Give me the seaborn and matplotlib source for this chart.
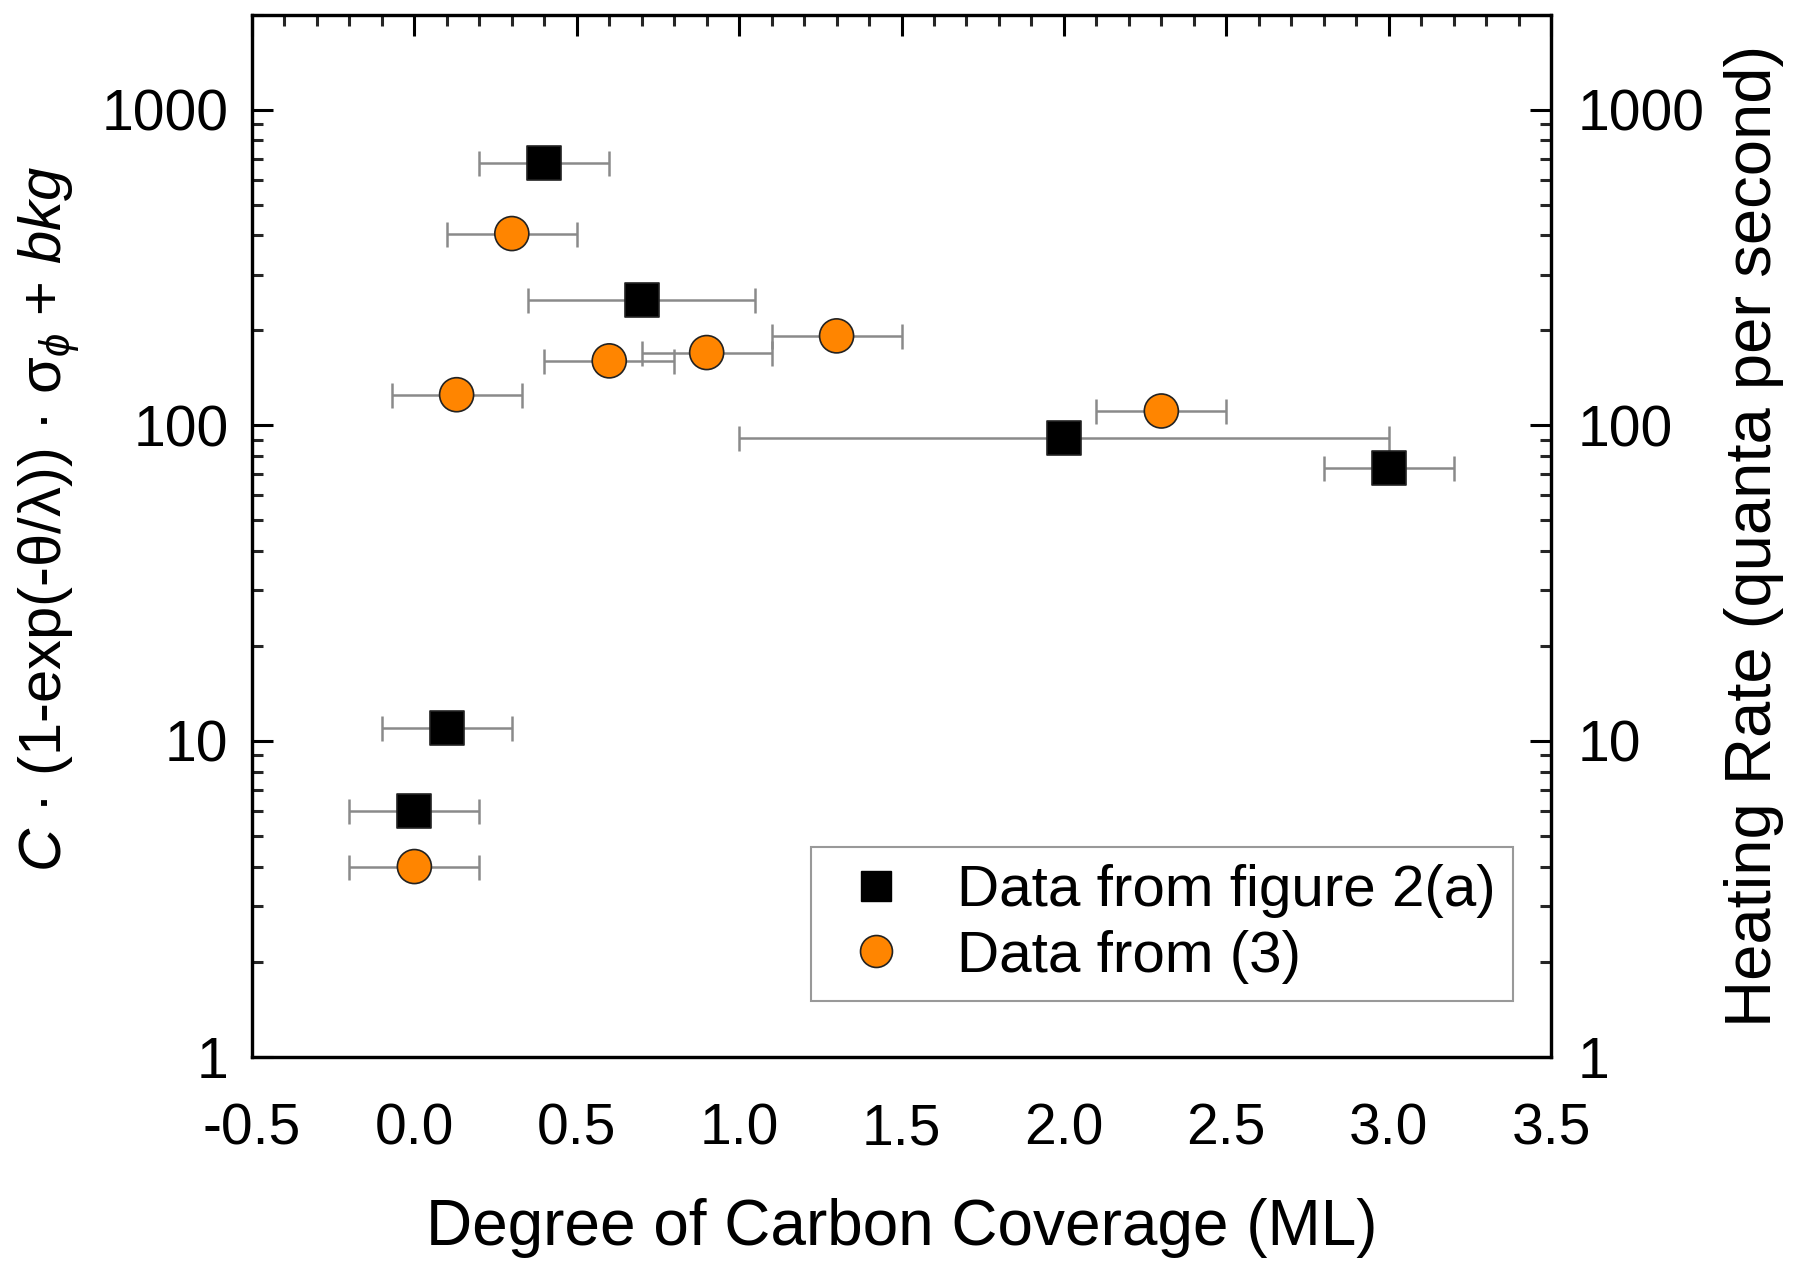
import numpy as np
import pandas as pd
import matplotlib
matplotlib.use("Agg")
import matplotlib.pyplot as plt
import seaborn as sns
from matplotlib.lines import Line2D
from matplotlib.ticker import FixedLocator, FixedFormatter, LogLocator, MultipleLocator, NullFormatter

# ---- data ----
sq_x = [0.0, 0.1, 0.4, 0.7, 2.0, 3.0]
sq_y = [6, 11, 680, 250, 91, 73]
sq_xerr = [0.2, 0.2, 0.2, 0.35, 1.0, 0.2]

ci_x = [0.0, 0.13, 0.3, 0.6, 0.9, 1.3, 2.3]
ci_y = [4, 125, 405, 160, 170, 192, 111]
ci_xerr = [0.2, 0.2, 0.2, 0.2, 0.2, 0.2, 0.2]

label_sq = "Data from figure 2(a)"
label_ci = "Data from (3)"

y_ticks = [1, 10, 100, 1000]
y_tick_labels = ["1", "10", "100", "1000"]
x_ticks = [-0.5, 0.0, 0.5, 1.0, 1.5, 2.0, 2.5, 3.0, 3.5]
x_tick_labels = ["-0.5", "0.0", "0.5", "1.0", "1.5", "2.0", "2.5", "3.0", "3.5"]

df = pd.DataFrame({
    "x": sq_x + ci_x,
    "y": sq_y + ci_y,
    "xerr": sq_xerr + ci_xerr,
    "source": [label_sq] * len(sq_x) + [label_ci] * len(ci_x),
})

sns.set_theme(style="white")
plt.rcParams['font.family'] = ['Liberation Sans', 'DejaVu Sans']
plt.rcParams['mathtext.fontset'] = 'custom'
plt.rcParams['mathtext.rm'] = 'Liberation Sans'
plt.rcParams['mathtext.it'] = 'Liberation Sans:italic'
plt.rcParams['mathtext.bf'] = 'Liberation Sans:bold'
plt.rcParams['text.color'] = 'black'
plt.rcParams['axes.labelcolor'] = 'black'

fig = plt.figure(figsize=(18, 12.73), dpi=100)
ax = fig.add_axes([0.140, 0.170, 0.7217, 0.8185])

orange = "#FF8500"
ax.errorbar(df["x"], df["y"], xerr=df["xerr"], fmt="none", ecolor="#8a8a8a",
            elinewidth=1.8, capsize=9, capthick=1.8, zorder=2)

sns.scatterplot(data=df, x="x", y="y", hue="source", style="source",
                palette={label_sq: "black", label_ci: orange},
                markers={label_sq: "s", label_ci: "o"},
                s=600, edgecolor="#222222", linewidth=1.2, ax=ax, zorder=3, legend=False)

ax.set_yscale("log")
ax.set_xlim(-0.5, 3.5)
ax.set_ylim(1, 2000)

ax.xaxis.set_major_locator(FixedLocator(x_ticks))
ax.xaxis.set_major_formatter(FixedFormatter(x_tick_labels))
ax.xaxis.set_minor_locator(MultipleLocator(0.1))
ax.yaxis.set_major_locator(FixedLocator(y_ticks))
ax.yaxis.set_major_formatter(FixedFormatter(y_tick_labels))
ax.yaxis.set_minor_locator(LogLocator(base=10, subs=np.arange(2, 10)))
ax.yaxis.set_minor_formatter(NullFormatter())

for sp in ax.spines.values():
    sp.set_linewidth(2.3)
    sp.set_color("black")

ax.tick_params(axis="both", which="major", direction="in", length=15, width=2.2,
               top=True, right=False, labelsize=41, colors="black")
ax.tick_params(axis="both", which="minor", direction="in", length=8, width=2.2,
               top=True, right=False)
ax.tick_params(axis="x", which="major", pad=33)
ax.tick_params(axis="y", which="major", pad=17)

ax.set_xlabel("Degree of Carbon Coverage (ML)", fontsize=46, labelpad=30, color="black")
ax.set_ylabel(r"$C$ · (1-exp(-θ/λ)) · σ$_{\phi}$ + $bkg$", fontsize=43, labelpad=14,
              color="black")
ax.yaxis.label.set_y(0.516)

ax2 = ax.twinx()
ax2.set_yscale("log")
ax2.set_ylim(1, 2000)
ax2.yaxis.set_major_locator(FixedLocator(y_ticks))
ax2.yaxis.set_major_formatter(FixedFormatter(y_tick_labels))
ax2.yaxis.set_minor_locator(LogLocator(base=10, subs=np.arange(2, 10)))
ax2.yaxis.set_minor_formatter(NullFormatter())
ax2.tick_params(axis="y", which="major", direction="in", length=15, width=2.2,
                labelsize=41, pad=19, colors="black")
ax2.tick_params(axis="y", which="minor", direction="in", length=8, width=2.2)
for sp in ax2.spines.values():
    sp.set_linewidth(2.3)
    sp.set_color("black")
ax2.set_ylabel("Heating Rate (quanta per second)", fontsize=47, labelpad=14, color="black")
ax2.grid(False)
ax.grid(False)

handles = [
    Line2D([], [], linestyle="none", marker="s", markersize=21, markerfacecolor="black",
           markeredgecolor="black", label=label_sq),
    Line2D([], [], linestyle="none", marker="o", markersize=23, markerfacecolor=orange,
           markeredgecolor="#222222", markeredgewidth=1.2, label=label_ci),
]
leg = ax.legend(handles=handles, loc="lower right", bbox_to_anchor=(0.971, 0.053),
                fontsize=42, frameon=True, fancybox=False, edgecolor="#999999",
                framealpha=1, borderpad=0.3, labelspacing=0.2, handletextpad=0.6,
                handlelength=1.6, borderaxespad=0)
leg.get_frame().set_linewidth(1.5)
for t in leg.get_texts():
    t.set_color("black")

fig.savefig("out.png", dpi=100, facecolor="white")
